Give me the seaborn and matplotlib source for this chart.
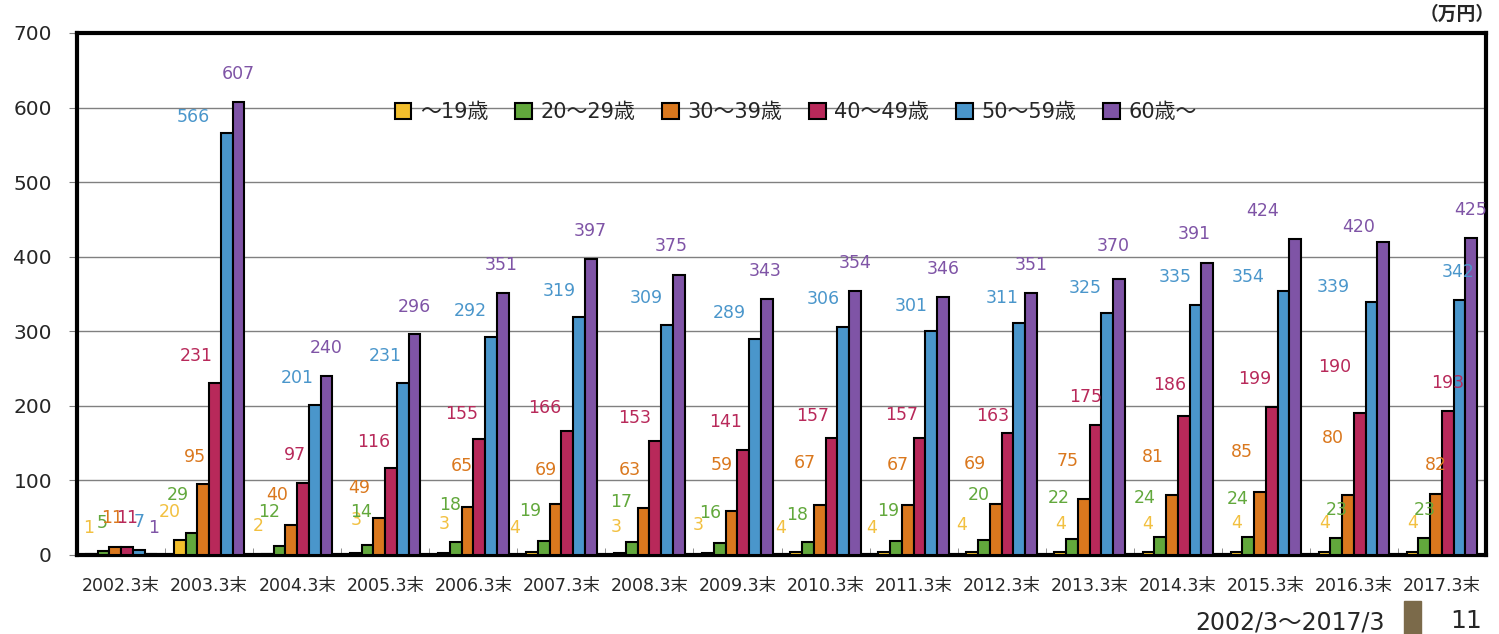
import pandas as pd
import seaborn as sns
import matplotlib.pyplot as plt
from matplotlib.patches import Rectangle

# data (万円)
periods = ["2002.3末", "2003.3末", "2004.3末", "2005.3末", "2006.3末", "2007.3末",
           "2008.3末", "2009.3末", "2010.3末", "2011.3末", "2012.3末", "2013.3末",
           "2014.3末", "2015.3末", "2016.3末", "2017.3末"]
age_groups = ["～19歳", "20～29歳", "30～39歳", "40～49歳", "50～59歳", "60歳～"]
age_u19 = [1, 20, 2, 3, 3, 4, 3, 3, 4, 4, 4, 4, 4, 4, 4, 4]
age_20s = [5, 29, 12, 14, 18, 19, 17, 16, 18, 19, 20, 22, 24, 24, 23, 23]
age_30s = [11, 95, 40, 49, 65, 69, 63, 59, 67, 67, 69, 75, 81, 85, 80, 82]
age_40s = [11, 231, 97, 116, 155, 166, 153, 141, 157, 157, 163, 175, 186, 199, 190, 193]
age_50s = [7, 566, 201, 231, 292, 319, 309, 289, 306, 301, 311, 325, 335, 354, 339, 342]
age_60p = [1, 607, 240, 296, 351, 397, 375, 343, 354, 346, 351, 370, 391, 424, 420, 425]

colors = ["#F2BE2C", "#62A83C", "#DA781E", "#B8295A", "#4A96CB", "#7F54A6"]
label_colors = ["#F2C040", "#62A83C", "#DA781E", "#B8295A", "#4A96CB", "#7F54A6"]

# hand-placed data label offsets in pixels from each bar top (as in the original sheet)
label_dx = [
    [-3, -10, -10, 0, 0, -17, -4, -10, -16, -13, -11, 0, -1, 0, 0, 0],
    [-1, -14, -10, -7, -6, -14, -11, -10, -11, -8, -5, -13, -15, -11, 0, 0],
    [-3, -8, -14, -20, -6, -10, -14, -10, -15, -10, -21, -16, -19, -18, -15, 0],
    [0, -19, -8, -17, -18, -22, -21, -18, -19, -18, -15, -10, -14, -17, -25, 0],
    [0, -33, -18, -18, -21, -20, -21, -26, -20, -20, -17, -22, -20, -35, -38, -1],
    [3, 0, 0, 0, -1, 0, -8, -2, 0, 0, 0, -6, -13, -33, -25, -1],
]
label_dy = [
    [26, 28, 28, 33, 29, 24, 26, 28, 24, 24, 27, 28, 28, 29, 29, 29],
    [28, 38, 34, 33, 37, 30, 40, 30, 27, 30, 45, 41, 39, 38, 28, 28],
    [29, 27, 30, 30, 41, 34, 38, 46, 42, 40, 40, 38, 38, 40, 57, 29],
    [29, 27, 28, 26, 25, 23, 23, 28, 22, 23, 17, 28, 31, 28, 46, 28],
    [28, 16, 27, 27, 26, 26, 27, 26, 28, 25, 25, 25, 28, 14, 15, 28],
    [26, 28, 28, 27, 28, 28, 29, 28, 28, 28, 28, 33, 29, 28, 15, 28],
]

series = [age_u19, age_20s, age_30s, age_40s, age_50s, age_60p]
rows = []
for g, vals in zip(age_groups, series):
    for p, v in zip(periods, vals):
        rows.append({"period": p, "age": g, "value": v})
df = pd.DataFrame(rows)

sns.set_style("white")
plt.rcParams["font.family"] = ["DejaVu Sans", "Noto Sans CJK JP"]

fig = plt.figure(figsize=(14.99, 6.34), dpi=100)
ax = fig.add_axes([77 / 1499, 1 - 555 / 634, (1486 - 77) / 1499, (555 - 33) / 634])

sns.barplot(data=df, x="period", y="value", hue="age", order=periods,
            hue_order=age_groups, palette=colors, width=0.8, saturation=1,
            edgecolor="black", linewidth=1.5, ax=ax, zorder=3)

ax.set_ylim(0, 700)
ax.set_xlim(-0.5, len(periods) - 0.5)
ax.set_yticks(range(0, 701, 100))
ax.yaxis.grid(True, color="#808080", linewidth=1, zorder=0)
ax.set_axisbelow(True)
for s in ax.spines.values():
    s.set_visible(True)
    s.set_color("black")
    s.set_linewidth(3)
ax.set_xlabel("")
ax.set_ylabel("")
ax.tick_params(axis="y", left=True, length=6, color="#808080", pad=12, labelsize=14.5)
ax.tick_params(axis="x", bottom=False, pad=12, labelsize=12.5)
ax.set_xticks(range(len(periods)))
ax.set_xticklabels(periods)
ax.set_xticks([i + 0.5 for i in range(len(periods) - 1)], minor=True)
ax.tick_params(axis="x", which="minor", bottom=True, direction="in", length=5, color="#808080")

for k, (cont, col) in enumerate(zip(ax.containers, label_colors)):
    for i, bar in enumerate(cont):
        h = bar.get_height()
        ax.annotate(f"{h:.0f}", (bar.get_x() + bar.get_width() / 2, h),
                    xytext=(label_dx[k][i], label_dy[k][i]), textcoords="offset pixels",
                    ha="center", va="center", color=col, fontsize=12.5, zorder=5)

handles, labels = ax.get_legend_handles_labels()
ax.legend(handles, labels, loc="center", bbox_to_anchor=(0.51, 0.849), ncol=6,
          frameon=False, fontsize=15, handlelength=0.8, handleheight=0.8,
          handletextpad=0.4, columnspacing=1.3, borderaxespad=0)

fig.text(1495 / 1499, 1 - 14 / 634, "（万円）", ha="right", va="center",
         fontsize=13.5, fontweight="bold", family=["Noto Sans CJK JP"])
fig.text(1385 / 1499, 1 - 622 / 634, "2002/3～2017/3", ha="right", va="center", fontsize=17)
fig.patches.append(Rectangle((1404 / 1499, 0), 16.5 / 1499, 33.5 / 634,
                             transform=fig.transFigure, color="#7B6A4A"))
fig.text(1466 / 1499, 1 - 621 / 634, "11", ha="center", va="center", fontsize=18)

fig.savefig("out.png", dpi=100)
